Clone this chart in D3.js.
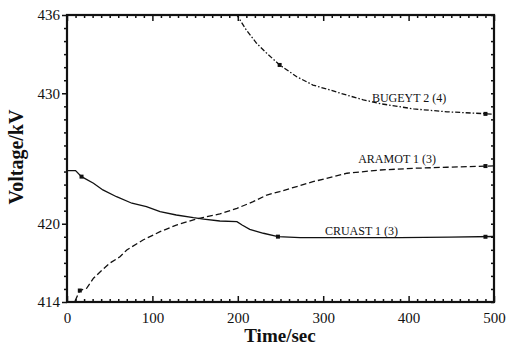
<!DOCTYPE html>
<html>
<head>
<meta charset="utf-8">
<script src="https://cdn.jsdelivr.net/npm/d3@7"></script>
<style>
  html, body { margin: 0; padding: 0; background: #fff; }
  svg { display: block; }
  text { font-family: "Liberation Serif", "Times New Roman", serif; fill: #111; }
</style>
</head>
<body>
<svg id="chart" width="508" height="345"></svg>
<script>
// ---- data ----
const xTicksMajor = [0, 100, 200, 300, 400, 500];
const yTickLabels = [414, 420, 430, 436];

const cruastTime  = [0, 10, 17, 31, 42, 58, 76, 93, 109, 128, 148, 160, 179, 199, 205, 214, 230, 247, 273, 331, 390, 448, 500];
const cruastVolt  = [424.07, 424.07, 423.61, 423.10, 422.59, 422.07, 421.57, 421.31, 420.92, 420.67, 420.46, 420.36, 420.21, 420.16, 419.90, 419.57, 419.27, 419.01, 418.94, 418.94, 418.94, 418.98, 419.02];

const aramotTime  = [9.4, 15, 23, 31, 39, 50, 62, 70, 89, 109, 128, 148, 160, 179, 199, 218, 234, 249, 288, 328, 367, 406, 445, 500];
const aramotVolt  = [414.08, 414.88, 415.05, 415.82, 416.32, 416.97, 417.47, 417.99, 418.75, 419.39, 419.90, 420.29, 420.49, 420.75, 421.18, 421.69, 422.20, 422.46, 423.22, 423.87, 424.12, 424.25, 424.33, 424.43];

const bugeytTime  = [198, 210, 222, 234, 249, 269, 288, 308, 328, 347, 367, 406, 445, 500];
const bugeytVolt  = [436.1, 434.85, 433.83, 433.06, 432.17, 431.27, 430.63, 430.25, 429.85, 429.50, 429.20, 428.80, 428.58, 428.40];

const seriesNames = ["BUGEYT 2 (4)", "ARAMOT 1 (3)", "CRUAST 1 (3)"];
const markerTime  = [[249, 490], [15, 490], [17, 247, 490]];
const markerVolt  = [[432.17, 428.42], [414.88, 424.42], [423.61, 419.01, 419.0]];
const labelTime   = [357, 341, 302];
const labelVolt   = [429.33, 424.66, 419.17];

// ---- layout ----
const svg = d3.select("#chart");
const L = 67, R = 494, T = 15, B = 302;
const x = d3.scaleLinear().domain([0, 500]).range([L, R]);
const y = d3.scaleLinear().domain([414, 436]).range([B, T]);
const ink = "#111";
const SERIF = '"Liberation Serif", "Times New Roman", serif';

svg.append("defs").append("clipPath").attr("id", "clip")
  .append("rect").attr("x", L).attr("y", T).attr("width", R - L).attr("height", B - T);

function styleAxis(g, keepText) {
  g.attr("font-family", null);
  g.select(".domain").remove();
  g.selectAll(".tick line").attr("stroke", ink).attr("stroke-width", 1.5);
  if (!keepText) g.selectAll(".tick text").remove();
  else g.selectAll(".tick text").attr("font-size", 15).attr("fill", ink)
        .style("font-family", SERIF);
}
const minorX = d3.range(0, 501, 10).filter(v => v % 100 !== 0);
const minorY = d3.range(414, 437, 1).filter(v => !yTickLabels.includes(v));

// bottom
svg.append("g").attr("transform", `translate(0,${B})`)
  .call(d3.axisBottom(x).tickValues(xTicksMajor).tickSizeInner(-6).tickSizeOuter(0).tickPadding(10).tickFormat(d3.format("d")))
  .call(g => styleAxis(g, true));
svg.append("g").attr("transform", `translate(0,${B})`)
  .call(d3.axisBottom(x).tickValues(minorX).tickSizeInner(-3).tickSizeOuter(0))
  .call(g => styleAxis(g, false));
// top
svg.append("g").attr("transform", `translate(0,${T})`)
  .call(d3.axisTop(x).tickValues(xTicksMajor).tickSizeInner(-6).tickSizeOuter(0))
  .call(g => styleAxis(g, false));
svg.append("g").attr("transform", `translate(0,${T})`)
  .call(d3.axisTop(x).tickValues(minorX).tickSizeInner(-3).tickSizeOuter(0))
  .call(g => styleAxis(g, false));
// left
svg.append("g").attr("transform", `translate(${L},0)`)
  .call(d3.axisLeft(y).tickValues(yTickLabels).tickSizeInner(5).tickSizeOuter(0).tickPadding(2).tickFormat(d3.format("d")))
  .call(g => styleAxis(g, true));
svg.append("g").attr("transform", `translate(${L},0)`)
  .call(d3.axisLeft(y).tickValues(minorY).tickSizeInner(3).tickSizeOuter(0))
  .call(g => styleAxis(g, false));
// right
svg.append("g").attr("transform", `translate(${R},0)`)
  .call(d3.axisRight(y).tickValues(d3.range(414, 437, 1)).tickSizeInner(-3).tickSizeOuter(0))
  .call(g => styleAxis(g, false));

// frame
svg.append("rect").attr("x", L).attr("y", T).attr("width", R - L).attr("height", B - T)
  .attr("fill", "none").attr("stroke", ink).attr("stroke-width", 2.2);

// series
const series = [
  { t: bugeytTime, v: bugeytVolt, dash: "5,2,1.5,2" },
  { t: aramotTime, v: aramotVolt, dash: "6,3" },
  { t: cruastTime, v: cruastVolt, dash: null }
];
const line = d3.line().x(d => x(d[0])).y(d => y(d[1]));
const plot = svg.append("g").attr("clip-path", "url(#clip)");
series.forEach((s, i) => {
  const pts = s.t.map((t, j) => [t, s.v[j]]);
  plot.append("path").datum(pts)
    .attr("d", line).attr("fill", "none").attr("stroke", ink)
    .attr("stroke-width", 1.3)
    .attr("stroke-dasharray", s.dash);
  plot.selectAll(null).data(markerTime[i].map((t, j) => [t, markerVolt[i][j]]))
    .enter().append("rect")
    .attr("x", d => x(d[0]) - 2).attr("y", d => y(d[1]) - 2)
    .attr("width", 4).attr("height", 4).attr("fill", ink);
  svg.append("text")
    .attr("x", x(labelTime[i])).attr("y", y(labelVolt[i]))
    .attr("font-size", 12).style("font-family", SERIF).text(seriesNames[i]);
});

// axis titles
svg.append("text").attr("x", 280).attr("y", 342)
  .attr("text-anchor", "middle").attr("font-size", 19).attr("font-weight", "bold")
  .style("font-family", SERIF)
  .text("Time/sec");
svg.append("text").attr("transform", "translate(23,157) rotate(-90)")
  .attr("text-anchor", "middle").attr("font-size", 20).attr("font-weight", "bold")
  .style("font-family", SERIF)
  .text("Voltage/kV");
</script>
</body>
</html>
